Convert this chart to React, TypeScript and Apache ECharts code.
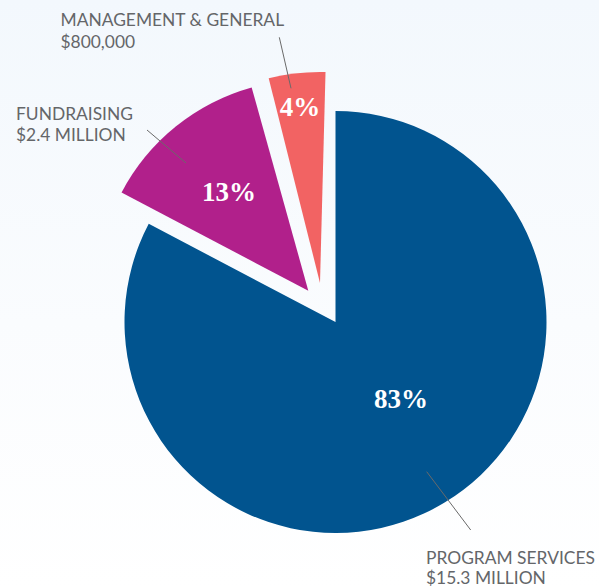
import React, { useEffect, useRef } from "react";
import * as echarts from "echarts";

// ---- data ----
const categories = ["PROGRAM SERVICES", "FUNDRAISING", "MANAGEMENT & GENERAL"];
const amounts = [15.3, 2.4, 0.8]; // millions of dollars
const amountLabels = ["$15.3 MILLION", "$2.4 MILLION", "$800,000"];

// ---- styling / layout ----
const colors = ["#01548f", "#b1208b", "#f26363"];
const centers: [number, number][] = [
  [335.5, 322],
  [308.3, 290.7],
  [320, 283],
];
const startAngles = [90, 90, 88.5];
const pctPos: [number, number][] = [
  [401, 399],
  [229, 192],
  [300, 107],
];
const labelPos: [number, number, number][] = [
  // x, middle of line 1, middle of line 2
  [426, 557.5, 577.5],
  [16, 113.3, 134],
  [60.5, 19.5, 41],
];
const leaderLines: [number, number, number, number][] = [
  [426.7, 471.7, 470.7, 530],
  [147, 130, 186, 163],
  [279.3, 37.3, 291, 88.3],
];

const TEXT_COLOR = "#646669";
const LABEL_FONT = "17.4px Lato";

export default function App() {
  const ref = useRef<HTMLDivElement>(null);

  useEffect(() => {
    document.body.style.margin = "0";
    const chart = echarts.init(ref.current!, null, { renderer: "svg" });

    const series = categories.map((_, i) => ({
      type: "pie",
      center: centers[i],
      radius: 211,
      startAngle: startAngles[i],
      clockwise: true,
      silent: true,
      avoidLabelOverlap: false,
      emphasis: { disabled: true },
      z: 2 + i,
      label: {
        position: "inside",
        formatter: (p: any) => Math.round(p.percent) + "%",
        color: "#ffffff",
        fontFamily: "Liberation Serif",
        fontWeight: "bold",
        fontSize: 27,
      },
      labelLine: { show: false },
      labelLayout: (params: any) =>
        params.dataIndex === i
          ? { x: pctPos[i][0], y: pctPos[i][1], align: "center", verticalAlign: "middle" }
          : {},
      data: categories.map((name, j) => ({
        name,
        value: amounts[j],
        itemStyle: { color: j === i ? colors[i] : "rgba(0,0,0,0)" },
        label: { show: j === i },
      })),
    }));

    const graphics: any[] = [
      {
        type: "rect",
        z: -10,
        shape: { x: 0, y: 0, width: 599, height: 588 },
        style: {
          fill: new echarts.graphic.LinearGradient(0, 0, 0, 1, [
            { offset: 0, color: "#f3f8fd" },
            { offset: 0.55, color: "#fafcfe" },
            { offset: 1, color: "#ffffff" },
          ]),
        },
        silent: true,
      },
    ];
    categories.forEach((name, i) => {
      const [x, y1, y2] = labelPos[i];
      graphics.push({
        type: "text",
        z: 20,
        x,
        y: y1,
        style: {
          text: name,
          fill: TEXT_COLOR,
          font: LABEL_FONT,
          verticalAlign: "middle",
          align: "left",
        },
      });
      graphics.push({
        type: "text",
        z: 20,
        x,
        y: y2,
        style: {
          text: amountLabels[i],
          fill: TEXT_COLOR,
          font: LABEL_FONT,
          verticalAlign: "middle",
          align: "left",
        },
      });
      const [ax, ay, bx, by] = leaderLines[i];
      graphics.push({
        type: "line",
        z: 20,
        shape: { x1: ax, y1: ay, x2: bx, y2: by },
        style: { stroke: "#6a6a6a", lineWidth: 1 },
      });
    });

    chart.setOption({
      animation: false,
      graphic: { elements: graphics },
      series,
    });

    return () => chart.dispose();
  }, []);

  return <div ref={ref} style={{ width: 599, height: 588 }} />;
}
